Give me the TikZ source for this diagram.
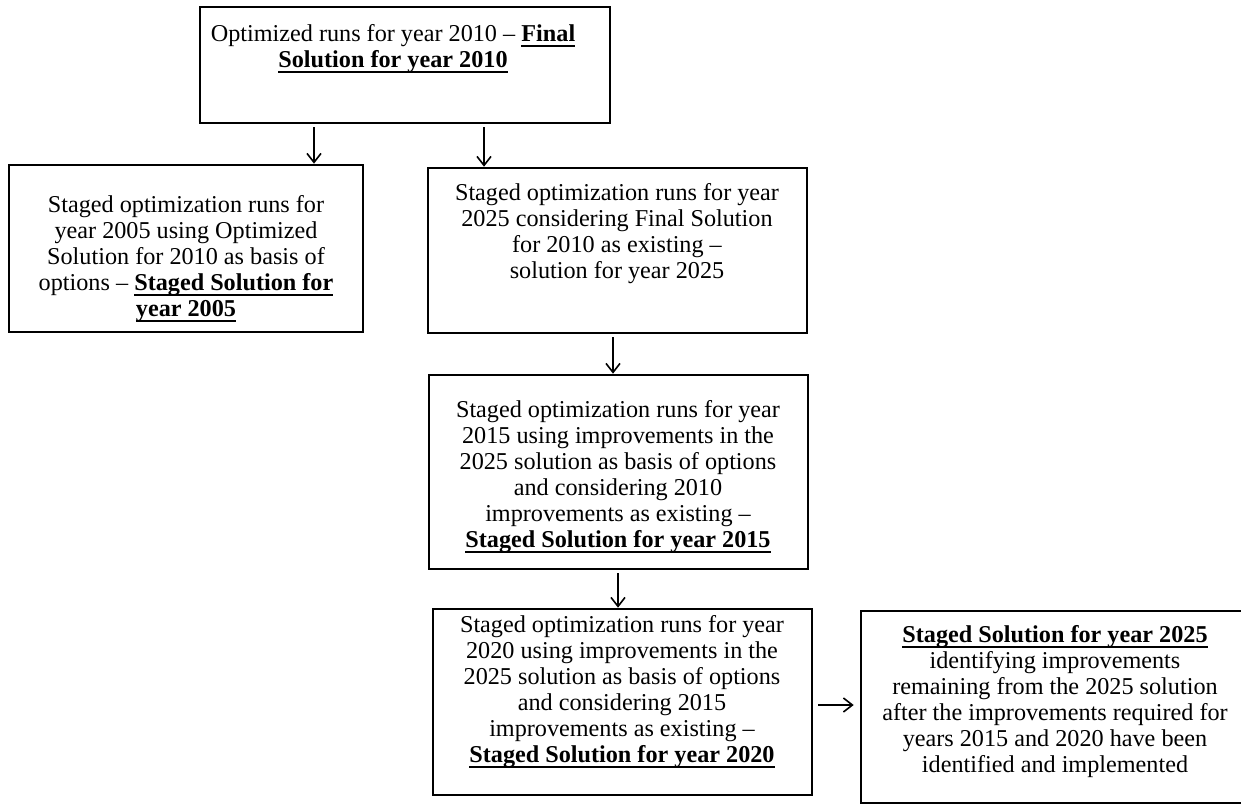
\documentclass[tikz,border=0pt]{standalone}
\usepackage{fontspec}
\setmainfont{Liberation Serif}
\usetikzlibrary{arrows.meta,positioning}
\tikzset{
  box/.style={draw, line width=1.3pt, inner sep=0pt},
  txt/.style={align=center, inner sep=0pt, anchor=north, font=\fontsize{12.1}{13}\selectfont},
}
\newcommand{\bul}[1]{\textbf{\setbox0\hbox{#1}\rlap{\rule[-2.6pt]{\wd0}{0.8pt}}\box0}}
\begin{document}
\begin{tikzpicture}[x=0.5pt, y=-0.5pt, >={Straight Barb[length=4.5pt,width=7pt]}]
\useasboundingbox (0,0) rectangle (1241,804);
\node(1) [box, minimum width=205pt, minimum height=58pt] at (405,65) {};
\node(2) [box, minimum width=177pt, minimum height=83.5pt] at (186,248.5) {};
\node(3) [box, minimum width=189.5pt, minimum height=82.5pt] at (617.5,250.5) {};
\node(4) [box, minimum width=189.5pt, minimum height=97pt] at (618.5,472) {};
\node(5) [box, minimum width=189.5pt, minimum height=93pt] at (622.5,702) {};
\node(6) [box, minimum width=196pt, minimum height=96pt] at (1057,707) {};
\node(1t) [txt] at (393,24.3) {Optimized runs for year 2010 -- \bul{Final}\\ \bul{Solution for year 2010}};
\node(2t) [txt] at (186,195.3) {Staged optimization runs for\\ year 2005 using Optimized\\ Solution for 2010 as basis of\\ options -- \bul{Staged Solution for}\\ \bul{year 2005}};
\node(3t) [txt] at (617,183.3) {Staged optimization runs for year\\ 2025 considering Final Solution\\ for 2010 as existing --\\ solution for year 2025};
\node(4t) [txt] at (618,400.3) {Staged optimization runs for year\\ 2015 using improvements in the\\ 2025 solution as basis of options\\ and considering 2010\\ improvements as existing --\\ \bul{Staged Solution for year 2015}};
\node(5t) [txt] at (622,615.3) {Staged optimization runs for year\\ 2020 using improvements in the\\ 2025 solution as basis of options\\ and considering 2015\\ improvements as existing --\\ \bul{Staged Solution for year 2020}};
\node(6t) [txt] at (1055,625.3) {\bul{Staged Solution for year 2025}\\ identifying improvements\\ remaining from the 2025 solution\\ after the improvements required for\\ years 2015 and 2020 have been\\ identified and implemented};
\coordinate(a12) at (314,0);
\coordinate(a13) at (484,0);
\coordinate(a34) at (613,0);
\coordinate(a45) at (618,0);
\coordinate(a56) at (0,705);
\draw[->, line width=0.8pt, shorten <=1.5pt] (1.south -| a12) to (2.north -| a12);
\draw[->, line width=0.8pt, shorten <=1.5pt] (1.south -| a13) to (3.north -| a13);
\draw[->, line width=0.8pt, shorten <=1.5pt] (3.south -| a34) to (4.north -| a34);
\draw[->, line width=0.8pt, shorten <=1.5pt] (4.south -| a45) to (5.north -| a45);
\draw[->, line width=0.8pt, shorten <=2.5pt, shorten >=3pt] (5.east |- a56) to (6.west |- a56);
\end{tikzpicture}
\end{document}
